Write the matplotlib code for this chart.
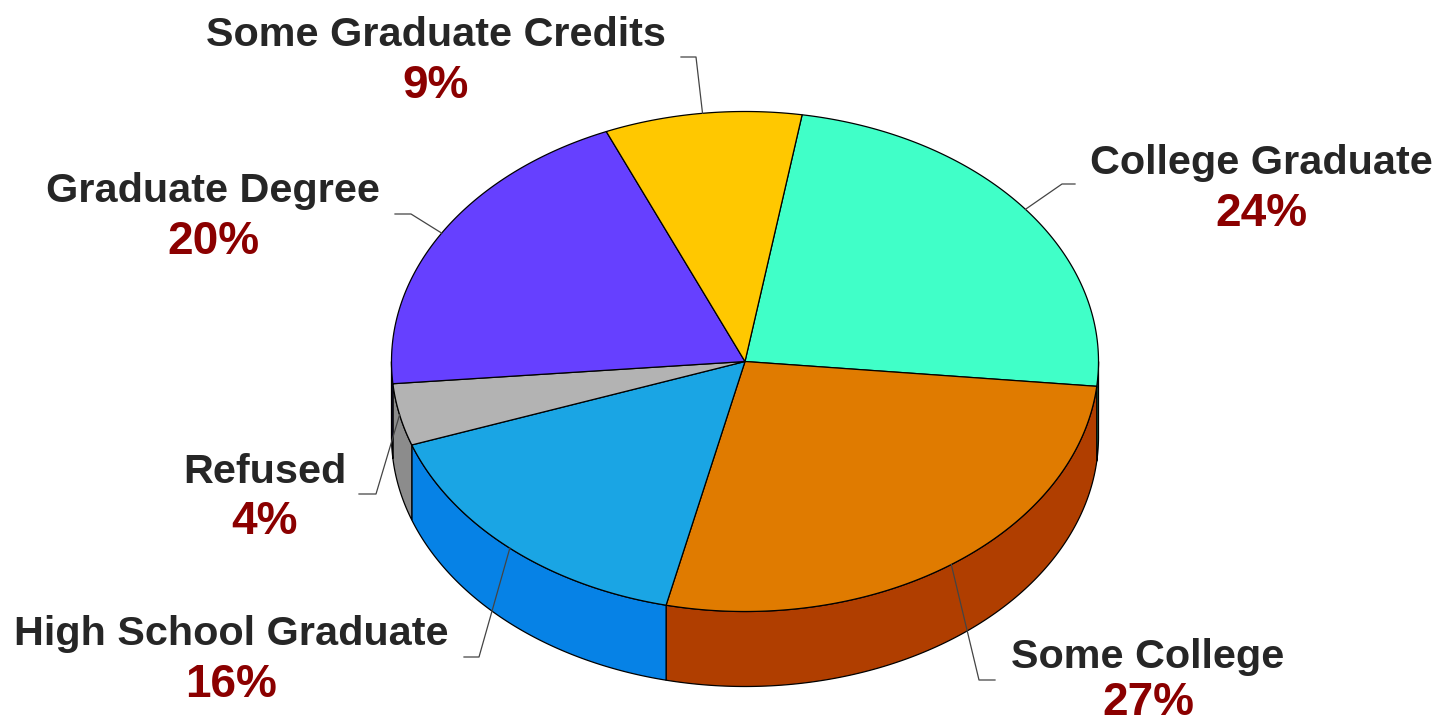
import numpy as np
from matplotlib import pyplot as plt
from matplotlib.patches import Polygon

# clockwise from the first slice
labels = ['College Graduate', 'Some College', 'High School Graduate', 'Refused',
          'Graduate Degree', 'Some Graduate Credits']
values = [24, 27, 16, 4, 20, 9]
top_colors = ['#40FFC8', '#E07B00', '#1AA5E4', '#B3B3B3', '#6640FF', '#FFC800']
side_colors = ['#2FC096', '#B03E00', '#0682E6', '#8C8C8C', '#4C30BF', '#BF9600']

# label centre x, name y, percent y
label_pos = [(1261, 163, 214), (1148, 657, 703), (231, 634, 685), (265, 472, 522),
             (213, 191, 242), (436, 35, 86)]
# knee of the leader line and its free end
knees = [(1062, 184, 1075), (979, 680, 995), (479, 657, 464), (376, 494, 359),
         (411, 214, 395), (696, 57, 681)]

cx, cy = 745, 361.5
rx, ry = 353.5, 250
depth = 75
start = 9.3


def ellipse(deg, dy=0):
    t = np.radians(deg)
    return np.column_stack([cx + rx * np.sin(t), cy - ry * np.cos(t) + dy])


plt.rcParams['font.family'] = ['Liberation Sans', 'DejaVu Sans']
fig = plt.figure(figsize=(14.38, 7.23), dpi=100)
ax = fig.add_axes([0, 0, 1, 1])
ax.set_xlim(0, 1438)
ax.set_ylim(723, 0)
ax.axis('off')

edges = start + np.cumsum([0] + values) * 3.6

# side wall, only the front half of the rim is visible
for i in range(len(values)):
    a = max(edges[i], 90)
    b = min(edges[i + 1], 270)
    if a >= b:
        continue
    t = np.linspace(a, b, 120)
    pts = np.vstack([ellipse(t), ellipse(t[::-1], depth)])
    ax.add_patch(Polygon(pts, facecolor=side_colors[i], edgecolor='black', linewidth=0.9, zorder=1))

# top face
for i in range(len(values)):
    t = np.linspace(edges[i], edges[i + 1], 200)
    pts = np.vstack([[cx, cy], ellipse(t)])
    ax.add_patch(Polygon(pts, facecolor=top_colors[i], edgecolor='black', linewidth=0.9, zorder=2))

# leaders and labels
for i in range(len(values)):
    mid = (edges[i] + edges[i + 1]) / 2
    p = ellipse(np.array([mid]))[0]
    kx, ky, ex = knees[i]
    ax.plot([p[0], kx, ex], [p[1], ky, ky], color='#444444', linewidth=0.9, zorder=3)
    x, y1, y2 = label_pos[i]
    ax.text(x, y1, labels[i], ha='center', va='center', fontsize=29.8, fontweight='bold', color='#262626')
    ax.text(x, y2, '%d%%' % values[i], ha='center', va='center', fontsize=33, fontweight='bold', color='#8B0000')

plt.savefig('out.png', dpi=100)
